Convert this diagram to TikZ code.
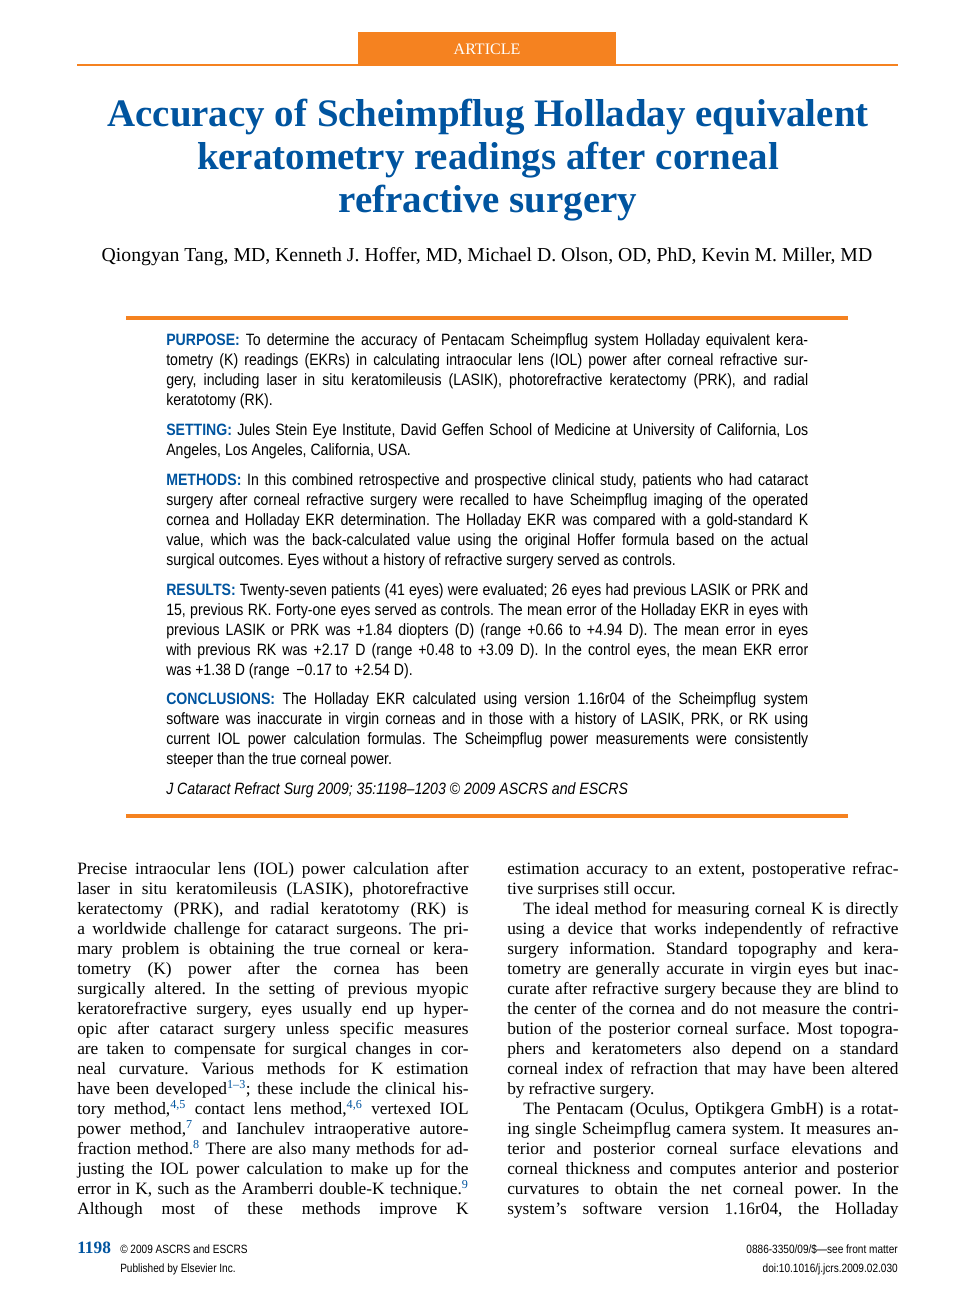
\documentclass[tikz,border=0pt]{standalone}
\usepackage{fontspec}
\setmainfont{Liberation Serif}
\newfontfamily\absf[FakeStretch=0.86]{Liberation Sans}
\newfontfamily\footf[FakeStretch=0.84]{Liberation Sans}
\definecolor{jblue}{RGB}{0,84,159}
\definecolor{jorange}{RGB}{245,130,32}
\frenchspacing
\newcommand\AL[2]{\node[abs] at (166,#1) {\makebox[481.5pt][s]{#2}};}
\newcommand\AF[2]{\node[abs] at (166,#1) {#2};}
\newcommand\BL[3]{\node[bod] at (#1,#2) {\makebox[293.5pt][s]{#3}};}
\newcommand\BF[3]{\node[bod] at (#1,#2) {#3};}
\newcommand\BI[3]{\node[bod] at (#1,#2) {\hspace*{12pt}\makebox[281.5pt][s]{#3}};}
\newcommand\hd[1]{{\bfseries\color{jblue}#1}}
\newcommand\sref[1]{\textsuperscript{\color{jblue}#1}}
\begin{document}
\begin{tikzpicture}[x=0.75pt,y=-0.75pt,
  abs/.style={anchor=base west,inner sep=0,font=\absf\fontsize{12.3}{14}\selectfont},
  bod/.style={anchor=base west,inner sep=0,font=\fontsize{13}{15}\selectfont},
  foot/.style={inner sep=0,font=\footf\fontsize{9}{10}\selectfont}]
\useasboundingbox (0,0) rectangle (975,1305);
% header
\fill[jorange] (358,32) rectangle (616,64);
\node[text=white,font=\fontsize{12}{14}\selectfont] (art) at (487,49) {ARTICLE};
\draw[jorange,line width=1.5pt] (77,65.5) -- (898,65.5);
\node[anchor=base,inner sep=0,text=jblue,font=\bfseries\fontsize{29.2}{32}\selectfont] (t1) at (488,127) {Accuracy of Scheimpflug Holladay equivalent};
\node[anchor=base,inner sep=0,text=jblue,font=\bfseries\fontsize{29.2}{32}\selectfont] (t2) at (488,170) {keratometry readings after corneal};
\node[anchor=base,inner sep=0,text=jblue,font=\bfseries\fontsize{29.2}{32}\selectfont] (t3) at (488,213) {refractive surgery};
\node[anchor=base,inner sep=0,font=\fontsize{14.8}{16}\selectfont] (au) at (487,262) {Qiongyan Tang, MD, Kenneth J. Hoffer, MD, Michael D. Olson, OD, PhD, Kevin M. Miller, MD};
% abstract
\draw[jorange,line width=3pt] (126,318) -- (848,318);
\draw[jorange,line width=3pt] (126,816) -- (848,816);
\AL{345}{\hd{PURPOSE:} To determine the accuracy of Pentacam Scheimpflug system Holladay equivalent kera-}
\AL{365}{tometry (K) readings (EKRs) in calculating intraocular lens (IOL) power after corneal refractive sur-}
\AL{385}{gery, including laser in situ keratomileusis (LASIK), photorefractive keratectomy (PRK), and radial}
\AF{405}{keratotomy (RK).}
\AL{435}{\hd{SETTING:} Jules Stein Eye Institute, David Geffen School of Medicine at University of California, Los}
\AF{455}{Angeles, Los Angeles, California, USA.}
\AL{485}{\hd{METHODS:} In this combined retrospective and prospective clinical study, patients who had cataract}
\AL{505}{surgery after corneal refractive surgery were recalled to have Scheimpflug imaging of the operated}
\AL{525}{cornea and Holladay EKR determination. The Holladay EKR was compared with a gold-standard K}
\AL{545}{value, which was the back-calculated value using the original Hoffer formula based on the actual}
\AF{565}{surgical outcomes. Eyes without a history of refractive surgery served as controls.}
\AL{595}{\hd{RESULTS:} Twenty-seven patients (41 eyes) were evaluated; 26 eyes had previous LASIK or PRK and}
\AL{615}{15, previous RK. Forty-one eyes served as controls. The mean error of the Holladay EKR in eyes with}
\AL{635}{previous LASIK or PRK was +1.84 diopters (D) (range +0.66 to +4.94 D). The mean error in eyes}
\AL{655}{with previous RK was +2.17 D (range +0.48 to +3.09 D). In the control eyes, the mean EKR error}
\AF{675}{was +1.38 D (range \,−0.17 to \,+2.54 D).}
\AL{704}{\hd{CONCLUSIONS:} The Holladay EKR calculated using version 1.16r04 of the Scheimpflug system}
\AL{724}{software was inaccurate in virgin corneas and in those with a history of LASIK, PRK, or RK using}
\AL{744}{current IOL power calculation formulas. The Scheimpflug power measurements were consistently}
\AF{764}{steeper than the true corneal power.}
\AF{794}{\itshape J Cataract Refract Surg 2009; 35:1198–1203 \upshape©\itshape{} 2009 ASCRS and ESCRS}
% left column
\BL{77}{874}{Precise intraocular lens (IOL) power calculation after}
\BL{77}{894}{laser in situ keratomileusis (LASIK), photorefractive}
\BL{77}{914}{keratectomy (PRK), and radial keratotomy (RK) is}
\BL{77}{934}{a worldwide challenge for cataract surgeons. The pri-}
\BL{77}{954}{mary problem is obtaining the true corneal or kera-}
\BL{77}{974}{tometry (K) power after the cornea has been}
\BL{77}{994}{surgically altered. In the setting of previous myopic}
\BL{77}{1014}{keratorefractive surgery, eyes usually end up hyper-}
\BL{77}{1034}{opic after cataract surgery unless specific measures}
\BL{77}{1054}{are taken to compensate for surgical changes in cor-}
\BL{77}{1074}{neal curvature. Various methods for K estimation}
\BL{77}{1094}{have been developed\sref{1–3}; these include the clinical his-}
\BL{77}{1114}{tory method,\sref{4,5} contact lens method,\sref{4,6} vertexed IOL}
\BL{77}{1134}{power method,\sref{7} and Ianchulev intraoperative autore-}
\BL{77}{1154}{fraction method.\sref{8} There are also many methods for ad-}
\BL{77}{1174}{justing the IOL power calculation to make up for the}
\BL{77}{1194}{error in K, such as the Aramberri double-K technique.\sref{9}}
\BL{77}{1214}{Although most of these methods improve K}
% right column
\BL{507}{874}{estimation accuracy to an extent, postoperative refrac-}
\BF{507}{894}{tive surprises still occur.}
\BI{507}{914}{The ideal method for measuring corneal K is directly}
\BL{507}{934}{using a device that works independently of refractive}
\BL{507}{954}{surgery information. Standard topography and kera-}
\BL{507}{974}{tometry are generally accurate in virgin eyes but inac-}
\BL{507}{994}{curate after refractive surgery because they are blind to}
\BL{507}{1014}{the center of the cornea and do not measure the contri-}
\BL{507}{1034}{bution of the posterior corneal surface. Most topogra-}
\BL{507}{1054}{phers and keratometers also depend on a standard}
\BL{507}{1074}{corneal index of refraction that may have been altered}
\BF{507}{1094}{by refractive surgery.}
\BI{507}{1114}{The Pentacam (Oculus, Optikgera GmbH) is a rotat-}
\BL{507}{1134}{ing single Scheimpflug camera system. It measures an-}
\BL{507}{1154}{terior and posterior corneal surface elevations and}
\BL{507}{1174}{corneal thickness and computes anterior and posterior}
\BL{507}{1194}{curvatures to obtain the net corneal power. In the}
\BL{507}{1214}{system's software version 1.16r04, the Holladay}
% footer
\node[anchor=base west,inner sep=0,text=jblue,font=\bfseries\fontsize{13}{15}\selectfont] (pg) at (77,1253) {1198};
\node[foot,anchor=base west] (cp) at (120,1253) {© 2009 ASCRS and ESCRS};
\node[foot,anchor=base west] (pb) at (120,1272) {Published by Elsevier Inc.};
\node[foot,anchor=base east] (fm) at (898,1253) {0886-3350/09/\$—see front matter};
\node[foot,anchor=base east] (doi) at (898,1272) {doi:10.1016/j.jcrs.2009.02.030};
\end{tikzpicture}
\end{document}
